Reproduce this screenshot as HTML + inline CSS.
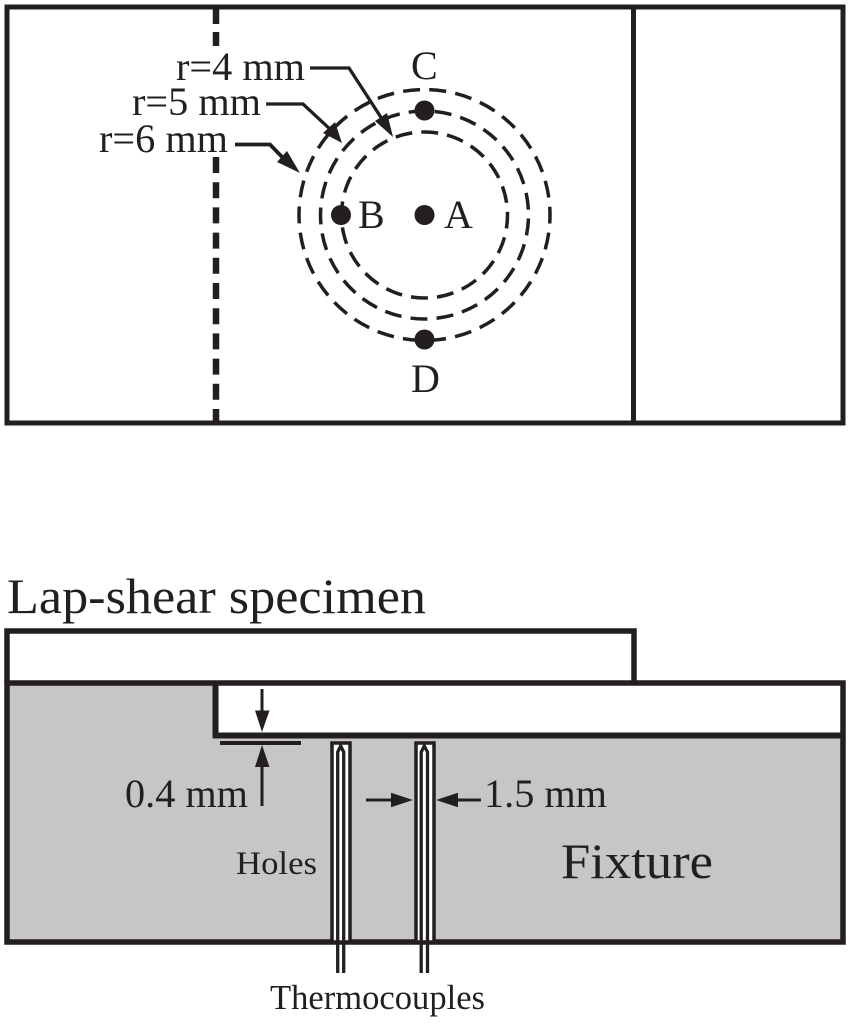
<!DOCTYPE html>
<html><head><meta charset="utf-8"><style>
html,body{margin:0;padding:0;background:#fff}
svg{display:block}
text{font-family:"Liberation Serif",serif;fill:#231f20}
</style></head><body>
<svg width="850" height="1024" viewBox="0 0 850 1024" xmlns="http://www.w3.org/2000/svg">
<rect width="850" height="1024" fill="#fff"/>
<g fill="none" stroke="#231f20">
<rect x="7" y="7" width="836" height="416" stroke-width="5"/>
<line x1="633.500" y1="7" x2="633.500" y2="423" stroke-width="5"/>
<line x1="216" y1="7" x2="216" y2="46" stroke-width="6.500" stroke-dasharray="17 8"/>
<line x1="216" y1="157" x2="216" y2="421" stroke-width="6.500" stroke-dasharray="16 9.200"/>
<g stroke-width="3.500">
<circle cx="424.500" cy="215" r="83" stroke-dasharray="17 9.080" stroke-dashoffset="3.500"/>
<circle cx="424.500" cy="215" r="104" stroke-dasharray="17 9.140" stroke-dashoffset="-3.500"/>
<circle cx="424.500" cy="215" r="125.500" stroke-dasharray="17 9.280" stroke-dashoffset="8.500"/>
</g>
<polyline points="310,68 349,68 384,122" stroke-width="3.300"/>
<polyline points="266,104 303,104 332,131" stroke-width="3.300"/>
<polyline points="235,144.500 270,144.500 285,160" stroke-width="3.800"/>
</g>
<g fill="#231f20">
<polygon points="393,137 375,121 387,113"/>
<polygon points="342,143 323,133 335,122"/>
<polygon points="300,173 277,162 287,151"/>
<circle cx="424.500" cy="110.500" r="10"/>
<circle cx="424.500" cy="215" r="10"/>
<circle cx="341" cy="215" r="10"/>
<circle cx="424.500" cy="339.500" r="10"/>
</g>
<g font-size="40">
<text x="176" y="80" textLength="129" lengthAdjust="spacingAndGlyphs">r=4 mm</text>
<text x="132" y="115" textLength="129" lengthAdjust="spacingAndGlyphs">r=5 mm</text>
<text x="99" y="152" textLength="129" lengthAdjust="spacingAndGlyphs">r=6 mm</text>
<text x="411" y="79">C</text>
<text x="358" y="228">B</text>
<text x="444" y="228">A</text>
<text x="411" y="392">D</text>
</g>
<text x="7" y="613" font-size="50" textLength="419" lengthAdjust="spacingAndGlyphs">Lap-shear specimen</text>
<rect x="7" y="683" width="836" height="259" fill="#c6c6c6"/>
<path d="M215.500 683 V735.500 H843 V683 Z" fill="#fff"/>
<path d="M7 683 V631 H634 V683 Z" fill="#fff"/>
<path d="M7 683 H843 V942 H7 Z" fill="none" stroke="#231f20" stroke-width="5.500"/>
<path d="M215.500 683 V735.500 H843" fill="none" stroke="#231f20" stroke-width="6"/>
<path d="M7 683 V631 H634 V683" fill="none" stroke="#231f20" stroke-width="5.500"/>
<line x1="220" y1="743" x2="301" y2="743" stroke="#231f20" stroke-width="4"/>
<g stroke="#231f20" fill="none">
<line x1="262" y1="689" x2="262" y2="715" stroke-width="3"/>
<line x1="262" y1="765" x2="262" y2="806" stroke-width="3"/>
<line x1="366" y1="800" x2="393" y2="800" stroke-width="3"/>
<line x1="456" y1="800" x2="481" y2="800" stroke-width="3"/>
</g>
<g fill="#231f20">
<polygon points="262,732 255,710.500 269.500,710.500"/>
<polygon points="262,745 255,767 269.500,767"/>
<polygon points="413,800 391,792.700 391,807.300"/>
<polygon points="436,800 458,792.700 458,807.300"/>
</g>
<g>
<rect x="332" y="743" width="18" height="199" fill="#fff" stroke="#231f20" stroke-width="3.500"/>
<rect x="416" y="743" width="18" height="199" fill="#fff" stroke="#231f20" stroke-width="3.500"/>
<path d="M337.700 973 V752 L340.700 746 L343.700 752 V973" fill="none" stroke="#231f20" stroke-width="3.300"/>
<path d="M421.200 973 V752 L424.300 746 L427.500 752 V973" fill="none" stroke="#231f20" stroke-width="3.300"/>
</g>
<text x="125" y="807" font-size="40" textLength="123" lengthAdjust="spacingAndGlyphs">0.4 mm</text>
<text x="484" y="807" font-size="40" textLength="123" lengthAdjust="spacingAndGlyphs">1.5 mm</text>
<text x="236" y="874" font-size="33" textLength="81" lengthAdjust="spacingAndGlyphs">Holes</text>
<text x="561" y="878" font-size="50" textLength="152" lengthAdjust="spacingAndGlyphs">Fixture</text>
<text x="270" y="1009" font-size="35" textLength="215" lengthAdjust="spacingAndGlyphs">Thermocouples</text>
</svg>
</body></html>
